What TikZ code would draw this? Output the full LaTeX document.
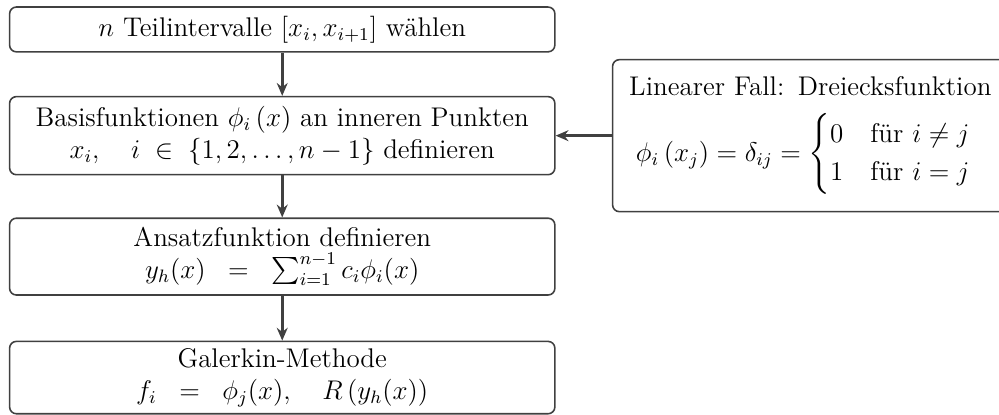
\documentclass[tikz,border=0pt]{standalone}
\usepackage{amsmath}
\usepackage{fontspec}
\usepackage{tikz}
\usetikzlibrary{arrows.meta,positioning}
\tikzset{
  >={Stealth[length=2mm,width=1.7mm]},
  gbox/.style={rounded corners=3pt, draw=black!75, line width=0.7pt,
               align=center, inner sep=2pt, minimum width=8.52cm, font=\large},
  gside/.style={rounded corners=3pt, draw=black!75, line width=0.7pt,
                align=left, inner xsep=0.26cm, inner ysep=7.5pt, text width=6.4cm,
                font=\large},
  gflow/.style={->, black!75, line width=1.3pt},
}

\begin{document}
\begin{tikzpicture}[x=1cm,y=1cm]

  \clip (0,0) rectangle (15.61,-6.48);

  % Teilintervalle
  \node[gbox, minimum height=0.70cm] (intv) at (4.41,-0.46)
        {$n$ Teilintervalle $[x_i, x_{i+1}]$ wählen};

  % Basisfunktionen
  \node[gbox, minimum height=1.22cm] (basis) at (4.41,-2.12)
        {Basisfunktionen $\phi_i\left(x\right)$ an inneren Punkten\\
         $x_i,\quad i\;\in\;\{1,2,\ldots,n-1\}$ definieren};

  % Ansatz
  \node[gbox, minimum height=1.20cm] (ansatz) at (4.41,-4.01)
        {Ansatzfunktion definieren\\
         $y_h(x)\;\;=\;\;\sum_{i=1}^{n-1}c_i\phi_i(x)$};

  % Galerkin
  \node[gbox, minimum height=1.13cm] (galerkin) at (4.41,-5.90)
        {Galerkin-Methode\\
         $f_i\;\;=\;\;\phi_j(x),\quad R\left(y_h(x)\right)$};

  % linearer Fall
  \node[gside, anchor=west] (dreieck) at (9.56,-2.12)
        {Linearer Fall: Dreiecksfunktion\\[7pt]
         \hspace{3pt}$\phi_i\left(x_j\right)=\delta_{ij}=
         \begin{cases}0 & \text{für } i\neq j\\ 1 & \text{für } i=j\end{cases}$};

  \draw[gflow] (intv) -- (basis);
  \draw[gflow] (basis) -- (ansatz);
  \draw[gflow] (ansatz) -- (galerkin);
  \draw[gflow] (dreieck) -- (basis);

\end{tikzpicture}
\end{document}
